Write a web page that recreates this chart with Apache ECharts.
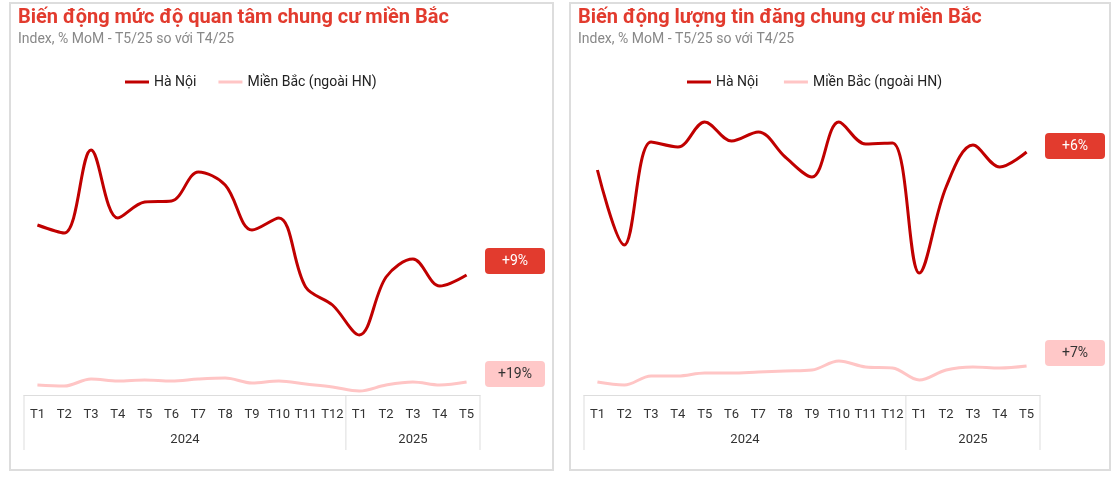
<!DOCTYPE html>
<html><head><meta charset="utf-8">
<script src="https://cdn.jsdelivr.net/npm/echarts@6/dist/echarts.min.js"></script>
<style>html,body{margin:0;background:#fff}#c{width:1116px;height:479px}</style>
</head><body><div id="c"></div>
<script>
const months = ['T1','T2','T3','T4','T5','T6','T7','T8','T9','T10','T11','T12','T1','T2','T3','T4','T5'];
const years = ['2024', '2025'];
// index values (relative)
const interestHN = [175,167,250,182,198,199,228,215,170,182,113,95,65,123,141,114,125];
const interestMB = [15,14,21,19,20,19,21,22,17,19,16,13,9,15,18,15,18];
const listingsHN = [230,155,258,253,278,259,268,243,223,278,256,257,127,213,255,233,248];
const listingsMB = [18,15,24,24,27,27,28,29,30,39,33,32,20,30,33,32,34];
const labelsLeft = ['+9%', '+19%'];
const labelsRight = ['+6%', '+7%'];

const RED = '#c00000', PINK = '#ffc5c5', HEAD = '#e23b2e';
const chart = echarts.init(document.getElementById('c'));
const font = 'Roboto';

function grid(left) { return { left: left, width: 456, top: 95, bottom: 84 }; }
function xAx(i) {
  return { type: 'category', gridIndex: i, data: months, boundaryGap: true,
    axisLine: { lineStyle: { color: '#ddd' } }, axisTick: { show: false },
    axisLabel: { color: '#333', fontSize: 13, fontFamily: font, margin: 13, interval: 0 } };
}
function yAx(i) { return { type: 'value', gridIndex: i, min: 5, max: 305, show: false, splitLine: { show: false } }; }
function line(i, data, color, z) {
  return { type: 'line', xAxisIndex: i, yAxisIndex: i, data: data, smooth: 0.35, symbol: 'none', z: z,
    lineStyle: { color: color, width: 3 }, itemStyle: { color: color } };
}
function panel(x0, w, title, sub, gl, labs, ys) {
  const sep = gl + 456 * 12 / 17;
  const ls = { stroke: '#ddd', lineWidth: 1 };
  return [
    { type: 'rect', shape: { x: x0, y: 3, width: w, height: 467 }, style: { fill: 'none', stroke: '#ddd', lineWidth: 2 } },
    { type: 'text', left: x0 + 8, top: 8, style: { text: title, fill: HEAD, font: 'bold 20px ' + font } },
    { type: 'text', left: x0 + 8, top: 32, style: { text: sub, fill: '#888', font: '14px ' + font } },
    { type: 'line', shape: { x1: gl, y1: 395, x2: gl, y2: 450 }, style: ls },
    { type: 'line', shape: { x1: sep, y1: 395, x2: sep, y2: 450 }, style: ls },
    { type: 'line', shape: { x1: gl + 456, y1: 395, x2: gl + 456, y2: 450 }, style: ls },
    { type: 'text', x: (gl + sep) / 2, y: 440, style: { text: years[0], fill: '#333', font: '13px ' + font, align: 'center', verticalAlign: 'middle' } },
    { type: 'text', x: (sep + gl + 456) / 2, y: 440, style: { text: years[1], fill: '#333', font: '13px ' + font, align: 'center', verticalAlign: 'middle' } },
    { type: 'rect', shape: { x: gl + 461, y: ys[0], width: 60, height: 26, r: 4 }, style: { fill: HEAD } },
    { type: 'text', x: gl + 491, y: ys[0] + 13, style: { text: labs[0], fill: '#fff', font: '14px ' + font, align: 'center', verticalAlign: 'middle' } },
    { type: 'rect', shape: { x: gl + 461, y: ys[1], width: 60, height: 26, r: 4 }, style: { fill: '#ffc8c8' } },
    { type: 'text', x: gl + 491, y: ys[1] + 13, style: { text: labs[1], fill: '#333', font: '14px ' + font, align: 'center', verticalAlign: 'middle' } }
  ];
}
const sub = 'Index, % MoM - T5/25 so với T4/25';
chart.setOption({
  animation: false,
  legend: [
    { left: 120, top: 70, data: ['Hà Nội', 'Miền Bắc (ngoài HN)'], icon: 'rect', itemWidth: 24, itemHeight: 3, itemGap: 22,
      textStyle: { fontSize: 14, color: '#222', fontFamily: font } },
    { left: 682, top: 70, data: ['Hà Nội ', 'Miền Bắc (ngoài HN) '], icon: 'rect', itemWidth: 24, itemHeight: 3, itemGap: 22,
      textStyle: { fontSize: 14, color: '#222', fontFamily: font } }
  ],
  grid: [grid(24), grid(584)],
  xAxis: [xAx(0), xAx(1)],
  yAxis: [yAx(0), yAx(1)],
  series: [
    Object.assign(line(0, interestMB, PINK, 2), { name: 'Miền Bắc (ngoài HN)' }),
    Object.assign(line(0, interestHN, RED, 3), { name: 'Hà Nội' }),
    Object.assign(line(1, listingsMB, PINK, 2), { name: 'Miền Bắc (ngoài HN) ' }),
    Object.assign(line(1, listingsHN, RED, 3), { name: 'Hà Nội ' })
  ],
  graphic: panel(10, 543, 'Biến động mức độ quan tâm chung cư miền Bắc', sub, 24, labelsLeft, [248, 361])
    .concat(panel(570, 540, 'Biến động lượng tin đăng chung cư miền Bắc', sub, 584, labelsRight, [133, 340]))
});
</script></body></html>
